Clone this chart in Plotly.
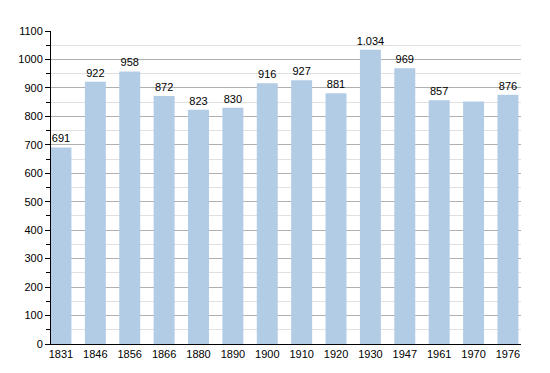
import plotly.graph_objects as go

years = ["1831", "1846", "1856", "1866", "1880", "1890", "1900", "1910", "1920",
         "1930", "1947", "1961", "1970", "1976"]
population = [691, 922, 958, 872, 823, 830, 916, 927, 881, 1034, 969, 857, 852, 876]
show_label = [True] * 12 + [False, True]

labels = [(f"{v:,}".replace(",", ".") if s else "") for v, s in zip(population, show_label)]

fig = go.Figure(go.Bar(
    x=list(range(len(years))),
    y=population,
    text=labels,
    textposition="outside",
    constraintext="none",
    textfont=dict(size=11, color="#000000"),
    marker=dict(color="#b3cce6", line=dict(width=0)),
    cliponaxis=False,
    width=0.61,
))

fig.update_layout(
    width=550, height=373,
    margin=dict(l=51, r=29, t=31, b=29),
    paper_bgcolor="white", plot_bgcolor="white",
    font=dict(family="Liberation Sans, Arial, sans-serif", size=11, color="#000000"),
    showlegend=False,
    xaxis=dict(
        tickmode="array", tickvals=list(range(len(years))), ticktext=years,
        range=[-0.29, 13.38], showgrid=False, showline=True, linecolor="#000000",
        linewidth=1, ticks="", zeroline=False,
    ),
    yaxis=dict(
        range=[0, 1100], dtick=100, tick0=0, showgrid=True, gridcolor="#b0b0b0",
        gridwidth=1, showline=True, linecolor="#000000", linewidth=1,
        ticks="outside", ticklen=5, tickcolor="#000000", zeroline=False,
        minor=dict(dtick=50, showgrid=True, gridcolor="#e0e0e0", ticks="outside",
                   ticklen=4, tickcolor="#000000"),
    ),
)

fig.write_html("out.html")
